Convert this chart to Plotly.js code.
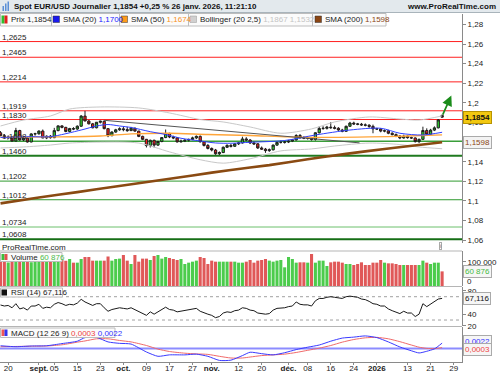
<!DOCTYPE html>
<html><head><meta charset="utf-8">
<script src="https://cdn.plot.ly/plotly-3.0.1.min.js"></script>
<style>html,body{margin:0;padding:0;background:#fff}#chart{width:500px;height:375px}</style>
</head><body><div id="chart"></div>
<script>
// ---- daily candles EUR/USD, first candle Mon 18 Aug 2025 (index 0 = Wed 20 Aug 2025), weekdays only ----
const startIndex = -2;
const open = [
1.1695,1.1665,1.1648,1.1650,1.1610,1.1718,1.1621,1.1640,1.1601,1.1683,
1.1685,1.1712,1.1642,1.1660,1.1645,1.1717,1.1765,1.1750,1.1708,1.1738,
1.1733,1.1762,1.1865,1.1815,1.1786,1.1746,1.1802,1.1812,1.1737,1.1665,
1.1702,1.1725,1.1735,1.1727,1.1717,1.1741,1.1712,1.1658,1.1628,1.1564,
1.1618,1.1569,1.1606,1.1646,1.1688,1.1652,1.1643,1.1602,1.1609,1.1619,
1.1627,1.1643,1.1658,1.1603,1.1566,1.1535,1.1519,1.1481,1.1493,1.1547,
1.1566,1.1557,1.1582,1.1591,1.1632,1.1621,1.1591,1.1582,1.1540,1.1528,
1.1513,1.1521,1.1569,1.1597,1.1598,1.1600,1.1610,1.1622,1.1667,1.1644,
1.1640,1.1641,1.1626,1.1695,1.1739,1.1740,1.1752,1.1747,1.1741,1.1723,
1.1710,1.1761,1.1794,1.1785,1.1782,1.1775,1.1772,1.1760,1.1735,1.1733,
1.1712,1.1715,1.1690,1.1676,1.1662,1.1642,1.1660,1.1645,1.1642,1.1605,
1.1628,1.1718,1.1680,1.1722,1.1745,1.1872];
const high = [
1.1712,1.1680,1.1668,1.1662,1.1745,1.1725,1.1655,1.1650,1.1690,1.1695,
1.1720,1.1728,1.1668,1.1672,1.1745,1.1770,1.1772,1.1755,1.1745,1.1752,
1.1770,1.1875,1.1918,1.1825,1.1795,1.1805,1.1818,1.1820,1.1740,1.1710,
1.1735,1.1750,1.1758,1.1755,1.1755,1.1748,1.1715,1.1665,1.1632,1.1625,
1.1625,1.1612,1.1650,1.1728,1.1695,1.1665,1.1650,1.1625,1.1628,1.1635,
1.1655,1.1668,1.1668,1.1610,1.1580,1.1545,1.1530,1.1505,1.1555,1.1578,
1.1580,1.1590,1.1600,1.1655,1.1650,1.1630,1.1605,1.1590,1.1555,1.1540,
1.1535,1.1575,1.1605,1.1615,1.1612,1.1622,1.1630,1.1680,1.1682,1.1660,
1.1655,1.1650,1.1700,1.1762,1.1762,1.1765,1.1804,1.1768,1.1752,1.1735,
1.1768,1.1806,1.1808,1.1795,1.1795,1.1790,1.1782,1.1778,1.1745,1.1740,
1.1728,1.1725,1.1700,1.1688,1.1670,1.1675,1.1668,1.1655,1.1648,1.1635,
1.1757,1.1740,1.1735,1.1760,1.1835,1.1880];
const low = [
1.1660,1.1640,1.1630,1.1605,1.1605,1.1615,1.1610,1.1595,1.1598,1.1665,
1.1675,1.1640,1.1630,1.1635,1.1640,1.1710,1.1740,1.1700,1.1700,1.1722,
1.1725,1.1755,1.1812,1.1780,1.1740,1.1740,1.1790,1.1730,1.1650,1.1660,
1.1695,1.1715,1.1710,1.1705,1.1712,1.1705,1.1650,1.1620,1.1545,1.1545,
1.1545,1.1560,1.1598,1.1640,1.1640,1.1630,1.1595,1.1595,1.1600,1.1605,
1.1620,1.1630,1.1595,1.1555,1.1525,1.1505,1.1470,1.1468,1.1488,1.1540,
1.1545,1.1550,1.1570,1.1585,1.1610,1.1580,1.1570,1.1530,1.1520,1.1490,
1.1500,1.1515,1.1560,1.1585,1.1585,1.1590,1.1600,1.1615,1.1635,1.1630,
1.1625,1.1615,1.1615,1.1688,1.1725,1.1728,1.1735,1.1730,1.1715,1.1700,
1.1705,1.1755,1.1775,1.1772,1.1765,1.1760,1.1745,1.1690,1.1725,1.1700,
1.1700,1.1680,1.1668,1.1650,1.1630,1.1635,1.1635,1.1632,1.1595,1.1590,
1.1622,1.1670,1.1672,1.1712,1.1740,1.1848];
const close = [
1.1665,1.1648,1.1650,1.1610,1.1718,1.1621,1.1640,1.1601,1.1683,1.1685,
1.1712,1.1642,1.1660,1.1645,1.1717,1.1765,1.1750,1.1708,1.1738,1.1733,
1.1762,1.1865,1.1815,1.1786,1.1746,1.1802,1.1812,1.1737,1.1665,1.1702,
1.1725,1.1735,1.1727,1.1717,1.1741,1.1712,1.1658,1.1628,1.1564,1.1618,
1.1569,1.1606,1.1646,1.1688,1.1652,1.1643,1.1602,1.1609,1.1619,1.1627,
1.1643,1.1658,1.1603,1.1566,1.1535,1.1519,1.1481,1.1493,1.1547,1.1566,
1.1557,1.1582,1.1591,1.1632,1.1621,1.1591,1.1582,1.1540,1.1528,1.1513,
1.1521,1.1569,1.1597,1.1598,1.1600,1.1610,1.1622,1.1667,1.1644,1.1640,
1.1641,1.1626,1.1695,1.1739,1.1740,1.1752,1.1747,1.1741,1.1723,1.1710,
1.1761,1.1794,1.1785,1.1782,1.1775,1.1772,1.1760,1.1735,1.1733,1.1712,
1.1715,1.1690,1.1676,1.1662,1.1642,1.1660,1.1645,1.1642,1.1605,1.1628,
1.1718,1.1680,1.1722,1.1745,1.1826,1.1854];
const volume = [
102000,110000,98000,104000,115000,100000,107000,112000,99000,104000,
118000,101000,106000,103000,115000,108000,108300,105000,112500,97200,
97200,112500,120800,120800,105600,105600,105600,105600,122900,105600,
112500,114000,129200,105600,91700,129200,101400,114000,114000,108300,
125000,129200,114000,120800,116700,112500,108300,112500,91700,97200,
101400,105600,120800,116700,91700,105600,101400,101400,101400,101400,
101400,101400,97200,97200,101400,108300,97200,105600,108300,112500,
105600,101400,105600,108300,77800,120800,112500,97200,98600,98600,
97200,133300,97200,105600,105600,83300,98600,101400,101400,97200,
91700,91700,87500,91700,98600,87500,87500,97200,97200,108300,
97200,94400,94400,91700,87500,87500,87500,87500,87500,87500,
105600,97200,91700,97200,97200,60876];
const rsi = [
55.8,54,55,51,58,49,51,47,54,54,
57,50,52,51,57,60,58,55,57,56,
59,65.5,61,58,55,58,58,51,45,48,
50,51,50,49,51,48,44,42,38,44,
40,44,48,52,48,47,44,45,46,47,
49,50,45,42,40,38,34,36,42,44,
43,46,47,51,50,47,46,42,41,40,
41,47,50,50,51,53,54,61,57,56,
56,54,63,67,67,69,70,69,68,67,
70,71,70,69,66,65,62,58,57,54,
54,49,46,44,41,45,42,42,36,40,
58,53,57,61,66,67.116];

// ---- indicators (trading-day index, value) ----
const sma20Idx = [-2,6,11,19,23,26,29,32,37,41,45,50,54,58,63,72,80,89,97,102,108,113];
const sma20Val = [1.1647,1.1655,1.1655,1.1723,1.1764,1.1779,1.1764,1.1749,1.1706,1.1677,1.1639,1.1611,1.1591,1.1588,1.1598,1.1616,1.1672,1.1723,1.1741,1.1690,1.1672,1.1700];
const sma50Idx = [-2,11,24,32,42,52,63,73,84,94,104,113];
const sma50Val = [1.1647,1.1652,1.1662,1.1683,1.1690,1.1677,1.1667,1.1652,1.1647,1.1652,1.1662,1.1674];
const sma200Idx = [-2,8,18,28,38,48,58,68,78,88,98,108,113];
const sma200Val = [1.0975,1.1035,1.1090,1.1147,1.1203,1.1260,1.1316,1.1365,1.1425,1.1480,1.1530,1.1575,1.1598];
const bbIdx = [-2,4,11,16,24,34,42,50,56,63,71,79,85,94,102,107,113];
const bbUpper = [1.1764,1.1825,1.1866,1.1937,1.1958,1.1948,1.1897,1.1830,1.1805,1.1754,1.1690,1.1734,1.1805,1.1856,1.1835,1.1825,1.1867];
const bbLower = [1.1540,1.1550,1.1570,1.1590,1.1600,1.1590,1.1500,1.1420,1.1385,1.1430,1.1510,1.1530,1.1560,1.1590,1.1575,1.1550,1.1532];
const trendIdx = [25, 91.5];
const trendVal = [1.1822, 1.1592];
const macdIdx = [-2,2,6,10,14,18,20,23,26,29,32,36,39,42,46,49,52,55,58,61,63,66,69,72,75,78,81,84,87,90,93,96,99,102,105,107,109,111,113];
const macdVal = [0.0011,0.0007,0.0010,0.0011,0.0020,0.0030,0.0045,0.0046,0.0027,0.0021,0.0018,-0.0015,-0.0033,-0.0027,-0.0027,-0.0024,-0.0033,-0.0050,-0.0049,-0.0030,-0.0016,-0.0022,-0.0027,-0.0018,-0.0005,0.0005,0.0014,0.0030,0.0043,0.0047,0.0052,0.0045,0.0027,0.0006,-0.0010,-0.0019,-0.0012,-0.0002,0.0022];
const signalVal = [0.0007,0.0008,0.0009,0.0010,0.0015,0.0026,0.0031,0.0040,0.0040,0.0033,0.0027,0.0012,-0.0003,-0.0013,-0.0020,-0.0023,-0.0025,-0.0033,-0.0040,-0.0040,-0.0036,-0.0030,-0.0027,-0.0024,-0.0017,-0.0008,0.0001,0.0012,0.0026,0.0037,0.0044,0.0046,0.0040,0.0028,0.0014,0.0005,0.0000,-0.0001,0.0003];

// ---- horizontal levels ----
const lineLevels = [1.2625,1.2465,1.2214,1.1919,1.1830,1.1608,1.1460,1.1202,1.1012,1.0734,1.0608];
const lineLabels = ['1,2625','1,2465','1,2214','1,1919','1,1830','1,1608','1,1460','1,1202','1,1012','1,0734','1,0608'];
const arrowTarget = [2.4, 1.2075]; // trading days after last candle, price

// ---- axis ticks ----
const xTickIdx = [0,8,12,18,24,30,36,42,48,53,60,66,73,78,84,90,96,104,110,116];
const xTickText = ['20','<b>sept.</b>','05','15','23','<b>oct.</b>','09','17','27','<b>nov.</b>','12','20','<b>déc.</b>','08','16','24','<b>2026</b>','13','21','29'];
const priceTicks = [1.06,1.08,1.10,1.12,1.14,1.18,1.20,1.22,1.24,1.26,1.28];
const priceTickText = ['1,06','1,08','1,1','1,12','1,14','1,18','1,2','1,22','1,24','1,26','1,28'];

// ================= drawing =================
const W = 462, TOP = 14, PH = 348;
const px = x => x / W;
const py = y => (TOP + PH - y) / PH;
const xs = close.map((_, k) => k + startIndex);
const lastK = close.length - 1;

const lineColors = ['#ff2020','#ff2020','#ff2020','#ff2020','#ff2020','#3a9e3a','#1f7a1f','#2f9a2f','#2f9a2f','#6cc06c','#166e16'];
const lineWidths = [1,1,1,1,1,1.5,2,1,1,1,2];

const traces = [
  {type:'candlestick', x:xs, open, high, low, close, xaxis:'x', yaxis:'y',
   increasing:{line:{color:'#1e1e1e', width:1}, fillcolor:'#2fd02f'},
   decreasing:{line:{color:'#1e1e1e', width:1}, fillcolor:'#f41c1c'},
   whiskerwidth:0},
  {type:'scatter', mode:'lines', x:bbIdx, y:bbUpper, yaxis:'y', line:{color:'#c8c8c8', width:1, shape:'spline', smoothing:0.8}},
  {type:'scatter', mode:'lines', x:bbIdx, y:bbLower, yaxis:'y', line:{color:'#c8c8c8', width:1, shape:'spline', smoothing:0.8}},
  {type:'scatter', mode:'lines', x:sma50Idx, y:sma50Val, yaxis:'y', line:{color:'#ffa53a', width:1.3, shape:'spline', smoothing:0.8}},
  {type:'scatter', mode:'lines', x:sma20Idx, y:sma20Val, yaxis:'y', line:{color:'#3040ff', width:1, shape:'spline', smoothing:0.8}},
  {type:'scatter', mode:'lines', x:trendIdx, y:trendVal, yaxis:'y', line:{color:'#555', width:1}},
  {type:'scatter', mode:'lines', x:sma200Idx, y:sma200Val, yaxis:'y', line:{color:'#8a4a12', width:2.6, shape:'spline', smoothing:0.6}},
  {type:'bar', x:xs, y:volume, yaxis:'y2', marker:{color:close.map((c,k)=> c>=open[k] ? '#4ccc4c' : '#e05858')}},
  {type:'scatter', mode:'lines', x:xs, y:rsi, yaxis:'y3', line:{color:'#1a1a1a', width:1}},
  {type:'scatter', mode:'lines', x:macdIdx, y:signalVal, yaxis:'y4', line:{color:'#f06a6a', width:1, shape:'spline', smoothing:0.6}},
  {type:'scatter', mode:'lines', x:macdIdx, y:macdVal, yaxis:'y4', line:{color:'#3a3aff', width:1, shape:'spline', smoothing:0.6}}
];
traces.forEach(t => { t.hoverinfo = 'skip'; t.showlegend = false; if (!t.xaxis) t.xaxis = 'x'; });

const shapes = [];
function rectPx(x0,y0,x1,y1,fill,line,lw){ shapes.push({type:'rect', xref:'paper', yref:'paper', x0:px(x0), x1:px(x1), y0:py(y1), y1:py(y0), fillcolor:fill, line:{color:line||fill, width: lw||0}, layer:'above'}); }
function hlinePx(y,x0,x1,color,w){ shapes.push({type:'line', xref:'paper', yref:'paper', x0:px(x0), x1:px(x1), y0:py(y), y1:py(y), line:{color, width:w}, layer:'above'}); }
function vlinePx(x,y0,y1,color,w){ shapes.push({type:'line', xref:'paper', yref:'paper', x0:px(x), x1:px(x), y0:py(y0), y1:py(y1), line:{color, width:w}, layer:'above'}); }

lineLevels.forEach((lv,k) => shapes.push({type:'line', xref:'paper', x0:0, x1:1, yref:'y', y0:lv, y1:lv, line:{color:lineColors[k], width:lineWidths[k]}, layer:'below'}));
[70,30].forEach(v => shapes.push({type:'line', xref:'paper', x0:0, x1:1, yref:'y3', y0:v, y1:v, line:{color:'#a0a0a0', width:1, dash:'3px,3px'}, layer:'below'}));
shapes.push({type:'line', xref:'paper', x0:0, x1:1, yref:'y4', y0:0, y1:0, line:{color:'#8c8cff', width:2}, layer:'below'});

// header and legend boxes
rectPx(0,0,500,12.5,'#e3e9ed');
hlinePx(12.5,0,500,'#a9b4bb',1);
rectPx(2.5,6,4,11,'#5b8fd6'); rectPx(5,3.5,6.5,11,'#5b8fd6'); rectPx(7.5,1.5,9,11,'#5b8fd6');
rectPx(0.5,13.5,386,26,'#fbfbfb','#bdbdbd',1);
[51.5,119.5,188.5,312.5].forEach(x => vlinePx(x,13.5,26,'#bdbdbd',1));
rectPx(1.5,15.5,4.5,23.5,'#2fbf2f'); rectPx(4.5,15.5,7.5,23.5,'#e02020');
rectPx(53,16,59.5,22.5,'#1a1aee','#333',0.5);
rectPx(121,16,127.5,22.5,'#ff9a1a','#333',0.5);
rectPx(190,16,196.5,22.5,'#d0d0d0','#999',0.5);
rectPx(315,16,321.5,22.5,'#8b4513','#333',0.5);
hlinePx(251,0,462,'#b5b5b5',1);
hlinePx(286.5,0,462,'#b5b5b5',1);
hlinePx(326.5,0,462,'#b5b5b5',1);
rectPx(0.5,252.5,62,261.5,'#fbfbfb','#bdbdbd',1);
rectPx(1.5,254,4.5,260,'#3cbf3c'); rectPx(4.5,254,7.5,260,'#e05050');
rectPx(0.5,288,62.5,297,'#fbfbfb','#bdbdbd',1);
rectPx(1.5,289.5,7,295.5,'#111');
rectPx(0.5,328,115,337.5,'#fbfbfb','#bdbdbd',1);
rectPx(1.5,329.5,4.5,336,'#ee5555'); rectPx(4.5,329.5,7.5,336,'#3333ee');

const ann = [];
function textPx(x,y,text,o){ ann.push(Object.assign({xref:'paper', yref:'paper', x:px(x), y:py(y), xanchor:'left', yanchor:'middle', text, showarrow:false, font:{size:8, color:'#222'}, borderpad:0}, o||{})); }
textPx(13, 6.5, '<b>Spot EUR/USD Journalier 1,1854 +0,25 % 26 janv. 2026, 11:21:10</b>', {font:{size:8, color:'#111'}});
textPx(497, 6.5, '<b>www.ProRealTime.com</b>', {xanchor:'right', font:{size:8, color:'#111'}});
textPx(9.5,19.8,'Prix 1,1854');
textPx(61.5,19.8,'SMA (20) <span style="color:#2020ff">1,1700</span>');
textPx(129.5,19.8,'SMA (50) <span style="color:#f7941d">1,1674</span>');
textPx(198.5,19.8,'Bollinger (20 2,5) <span style="color:#c4c4c4">1,1867 1,1532</span>');
textPx(323.5,19.8,'SMA (200) <span style="color:#8b4513">1,1598</span>');
textPx(1,247.5,'ProRealTime.com');
textPx(9.5,257.2,'Volume <span style="color:#4cbb4c">60 876</span>');
textPx(9.5,292.6,'RSI (14) 67,116');
textPx(9.5,333,'MACD (12 26 9) <span style="color:#ee4444">0,0003</span> <span style="color:#3333ff">0,0022</span>');
ann.push({xref:'paper', yref:'paper', x:px(442), y:py(245.5), text:'i', showarrow:false, font:{size:6, color:'#666'}, bordercolor:'#aaa', borderwidth:1, borderpad:0, bgcolor:'#fff'});

lineLevels.forEach((lv,k) => ann.push({xref:'paper', x:0, xanchor:'left', xshift:1, yref:'y', y:lv, yanchor:'bottom', yshift:-1, text:lineLabels[k], showarrow:false, font:{size:8, color:'#222'}, borderpad:0}));

function valueBox(yref,y,text,color,bg,border,yshift){ ann.push({xref:'paper', x:1, xanchor:'left', xshift:1, yref, y, yanchor:'middle', yshift:yshift||0, text, showarrow:false, font:{size:8, color}, bgcolor:bg, bordercolor:border, borderwidth:1, borderpad:1}); }
valueBox('y', close[lastK], '<b>1,1854</b>', '#111', '#f2c811', '#b89400');
valueBox('y', sma200Val[sma200Val.length-1], '1,1598', '#8b4513', '#f3f3f3', '#aaa');
valueBox('y2', volume[lastK], '60 876', '#44bb44', '#f6f6f6', '#aaa');
valueBox('y3', rsi[lastK], '67,116', '#111', '#f6f6f6', '#aaa');
valueBox('y4', macdVal[macdVal.length-1], '0,0022', '#3333ff', '#f6f6f6', '#aaa', 2);
valueBox('y4', signalVal[signalVal.length-1], '0,0003', '#ee4444', '#f6f6f6', '#aaa', -2);
ann.push({xref:'paper', x:1, xanchor:'left', xshift:4, yref:'y2', y:0, yanchor:'bottom', yshift:-1, text:'0', showarrow:false, font:{size:8, color:'#222'}, borderpad:0});

// drawn arrow from last candle
ann.push({xref:'x', yref:'y', axref:'x', ayref:'y', x: xs[lastK] + arrowTarget[0], y: arrowTarget[1], ax: xs[lastK], ay: high[lastK] - 0.0015, text:'', showarrow:true, arrowhead:2, arrowsize:1.2, arrowwidth:1.7, arrowcolor:'#1a8c1a'});

const yCommon = {side:'right', anchor:'x', showgrid:false, zeroline:false, showline:true, linecolor:'#8a8a8a', linewidth:1, ticks:'outside', ticklen:3, tickcolor:'#8a8a8a', tickfont:{size:8, color:'#222'}, fixedrange:true};

const layout = {
  width:500, height:375, margin:{l:0, r:38, t:14, b:13, pad:0},
  paper_bgcolor:'#fff', plot_bgcolor:'#fff', showlegend:false, hovermode:false,
  separators:', ', bargap:0.2, boxgap:0.15,
  font:{family:'Liberation Sans, Arial, sans-serif', size:8, color:'#222'},
  xaxis:{domain:[0,1], anchor:'y4', range:[-2.135, 118.18], tickvals:xTickIdx, ticktext:xTickText, tickangle:0,
         ticks:'outside', ticklen:2, tickcolor:'#8a8a8a', showline:true, linecolor:'#8a8a8a', ticklabelstandoff:-4,
         showgrid:false, zeroline:false, tickfont:{size:8, color:'#222'}, rangeslider:{visible:false}, fixedrange:true},
  yaxis: Object.assign({}, yCommon, {domain:[0.342,1], range:[1.0571,1.2906], tickvals:priceTicks, ticktext:priceTickText}),
  yaxis2: Object.assign({}, yCommon, {domain:[0.2184,0.319], range:[0,145833], tickvals:[100000], ticktext:['100 000']}),
  yaxis3: Object.assign({}, yCommon, {domain:[0.1034,0.2155], range:[19.7,86.65], tickvals:[20,40,60,80]}),
  yaxis4: Object.assign({}, yCommon, {domain:[0,0.1006], range:[-0.00567,0.00892], tickvals:[0.005], ticktext:['0,005'], ticklabelshift:3}),
  shapes, annotations: ann
};
Plotly.newPlot('chart', traces, layout, {staticPlot:true, displayModeBar:false});
</script></body></html>
